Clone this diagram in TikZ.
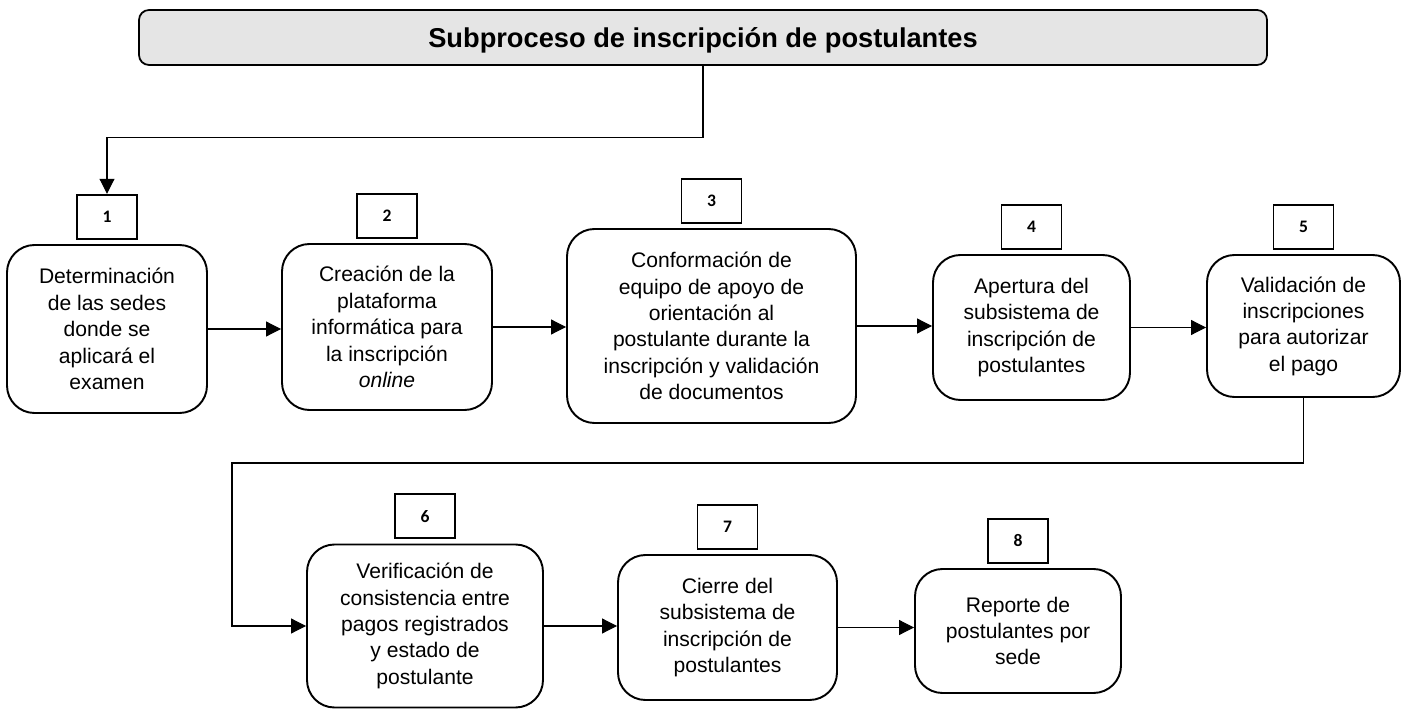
\documentclass[tikz,border=0pt]{standalone}
\usepackage{fontspec}
\setmainfont{Liberation Sans}
\newfontfamily\tagfont{Carlito}
\usetikzlibrary{positioning}
\usetikzlibrary{arrows.meta}

\tikzset{
    header/.style={draw, line width=1pt, rounded corners=0.2cm, fill=gray!20,
        minimum width=22.56cm, minimum height=1.1cm, text depth=0pt,
        font=\bfseries\fontsize{15.5}{18}\selectfont},
    stage/.style={draw, line width=1.1pt, rounded corners=0.55cm, align=center,
        inner sep=0pt, font=\fontsize{12}{15}\selectfont},
    tag/.style={draw, line width=1pt, minimum width=1.2cm, minimum height=0.88cm,
        inner sep=0pt, font=\tagfont\bfseries\fontsize{10}{12}\selectfont},
    flow/.style={-{Triangle[length=0.3cm, width=0.3cm]}, line width=0.6pt},
}

\begin{document}
\begin{tikzpicture}
    \useasboundingbox (0, 0) rectangle (28.16, -14.18);

    % Title
    \node[header] (title) at (14.06, -0.75) {Subproceso de inscripción de postulantes};

    % First row
    \node[stage, minimum width=4cm, minimum height=3.36cm] (b1) at (2.14, -6.58)
        {Determinación\\de las sedes\\donde se\\aplicará el\\examen};
    \node[stage, minimum width=4.2cm, minimum height=3.32cm] (b2) at (7.74, -6.54)
        {Creación de la\\plataforma\\informática para\\la inscripción\\\textit{online}};
    \node[stage, minimum width=5.78cm, minimum height=3.88cm] (b3) at (14.23, -6.52)
        {Conformación de\\equipo de apoyo de\\orientación al\\postulante durante la\\inscripción y validación\\de documentos};
    \node[stage, minimum width=3.94cm, minimum height=2.9cm] (b4) at (20.63, -6.55)
        {Apertura del\\subsistema de\\inscripción de\\postulantes};
    \node[stage, minimum width=3.86cm, minimum height=2.84cm] (b5) at (26.07, -6.52)
        {Validación de\\inscripciones\\para autorizar\\el pago};

    % Second row
    \node[stage, minimum width=4.72cm, minimum height=3.26cm] (b6) at (8.5, -12.52)
        {Verificación de\\consistencia entre\\pagos registrados\\y estado de\\postulante};
    \node[stage, minimum width=4.38cm, minimum height=2.9cm] (b7) at (14.55, -12.55)
        {Cierre del\\subsistema de\\inscripción de\\postulantes};
    \node[stage, minimum width=4.12cm, minimum height=2.48cm] (b8) at (20.36, -12.62)
        {Reporte de\\postulantes por\\sede};

    % Step numbers
    \foreach \n in {1,...,8}
        \node[tag, above=0.09cm of b\n] (t\n) {\n};

    % Connectors
    \draw[flow] (title.south) -- ++(0, -1.44) -| (t1.north);
    \draw[flow] (b1.east) -- (b1.east -| b2.west);
    \draw[flow] (b2.east) -- (b2.east -| b3.west);
    \draw[flow] (b3.east) -- (b3.east -| b4.west);
    \draw[flow] (b4.east) -- (b4.east -| b5.west);
    \coordinate (turn) at (4.64, -9.26);
    \draw[flow] (b5.south) |- (turn) |- (b6.west);
    \draw[flow] (b6.east) -- (b6.east -| b7.west);
    \draw[flow] (b7.east) -- (b7.east -| b8.west);
\end{tikzpicture}
\end{document}
